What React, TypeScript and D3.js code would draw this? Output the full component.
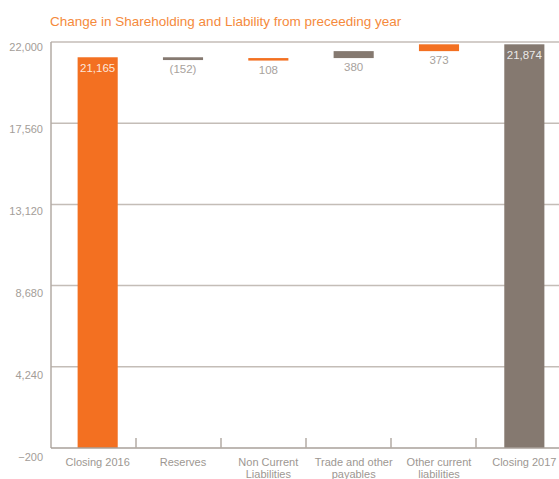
import React from "react";
import * as d3 from "d3";

const categories = [
  "Closing 2016",
  "Reserves",
  "Non Current Liabilities",
  "Trade and other payables",
  "Other current liabilities",
  "Closing 2017",
];
const categoryLines = [
  ["Closing 2016"],
  ["Reserves"],
  ["Non Current", "Liabilities"],
  ["Trade and other", "payables"],
  ["Other current", "liabilities"],
  ["Closing 2017"],
];
const values = [21165, -152, 108, 380, 373, 21874];
const isTotal = [true, false, false, false, false, true];
const valueLabels = ["21,165", "(152)", "108", "380", "373", "21,874"];
const yTicks = [-200, 4240, 8680, 13120, 17560, 22000];
const title = "Change in Shareholding and Liability from preceeding year";

const W = 559;
const H = 479;
const ORANGE = "#F37021";
const TAUPE = "#857970";
const palette = [ORANGE, TAUPE];
const FONT = "'Liberation Sans', Arial, sans-serif";

export default function App() {
  const y = d3.scaleLinear().domain([-200, 22000]).range([448, 42]);
  const yLab = d3.scaleLinear().domain([-200, 22000]).range([457, 47]);
  const xTick = d3.scaleBand<string>().domain(categories).range([51, 561]);
  const xBar = d3
    .scaleBand<string>()
    .domain(categories)
    .range([55, 567])
    .paddingInner(0.53)
    .paddingOuter(0.265);

  let running = 0;
  const bars = categories.map((c, i) => {
    let lo: number, hi: number;
    if (isTotal[i]) {
      lo = -200;
      hi = values[i];
      running = values[i];
    } else {
      const a = running;
      const b = running + values[i];
      lo = Math.min(a, b);
      hi = Math.max(a, b);
      running = b;
    }
    const top = y(hi);
    const bottom = Math.max(y(lo), top + 2.5);
    return { c, i, top, bottom };
  });

  const bw = xBar.bandwidth();

  return (
    <div style={{ position: "absolute", left: 0, top: 0 }}>
      <svg width={W} height={H} style={{ display: "block", fontFamily: FONT }}>
        <rect width={W} height={H} fill="#ffffff" />
        <text x={50} y={26} fontSize={13.5} fill="#F58A3C">
          {title}
        </text>
        {/* gridlines */}
        {yTicks
          .filter((t) => t !== -200)
          .map((t) => (
            <line key={t} x1={51} x2={W} y1={y(t)} y2={y(t)} stroke="#c4bdb7" strokeWidth={1.5} />
          ))}
        {/* y tick labels */}
        {yTicks.map((t) => (
          <text
            key={"l" + t}
            x={43}
            y={yLab(t)}
            textAnchor="end"
            dominantBaseline="central"
            fontSize={11}
            fill="#a39d98"
          >
            {d3.format(",")(t)}
          </text>
        ))}
        {/* bars */}
        {bars.map((b) => (
          <rect
            key={b.c}
            x={xBar(b.c)!}
            y={b.top}
            width={bw}
            height={b.bottom - b.top}
            fill={palette[b.i % 2]}
          />
        ))}
        {/* value labels */}
        {bars.map((b) => {
          const cx = xBar(b.c)! + bw / 2;
          if (isTotal[b.i]) {
            return (
              <text key={"v" + b.c} x={cx} y={b.top + 15} textAnchor="middle" fontSize={11.5} fill="rgba(255,255,255,0.85)">
                {valueLabels[b.i]}
              </text>
            );
          }
          return (
            <text key={"v" + b.c} x={cx} y={b.bottom + 13} textAnchor="middle" fontSize={11.5} fill="#a8a29d">
              {valueLabels[b.i]}
            </text>
          );
        })}
        {/* axes */}
        <line x1={51} x2={51} y1={42} y2={448} stroke="#b3aba5" strokeWidth={1.5} />
        <line x1={51} x2={W} y1={448} y2={448} stroke="#a9a19a" strokeWidth={1.5} />
        {categories.slice(1).map((c) => (
          <line key={"t" + c} x1={xTick(c)!} x2={xTick(c)!} y1={438} y2={448} stroke="#b3aba5" strokeWidth={1.5} />
        ))}
        {/* category labels */}
        {categories.map((c, i) => (
          <text key={"x" + c} x={xBar(c)! + bw / 2} y={466} textAnchor="middle" fontSize={11} fill="#9d9792">
            {categoryLines[i].map((ln, j) => (
              <tspan key={j} x={xBar(c)! + bw / 2} dy={j === 0 ? 0 : 11.5}>
                {ln}
              </tspan>
            ))}
          </text>
        ))}
      </svg>
    </div>
  );
}
